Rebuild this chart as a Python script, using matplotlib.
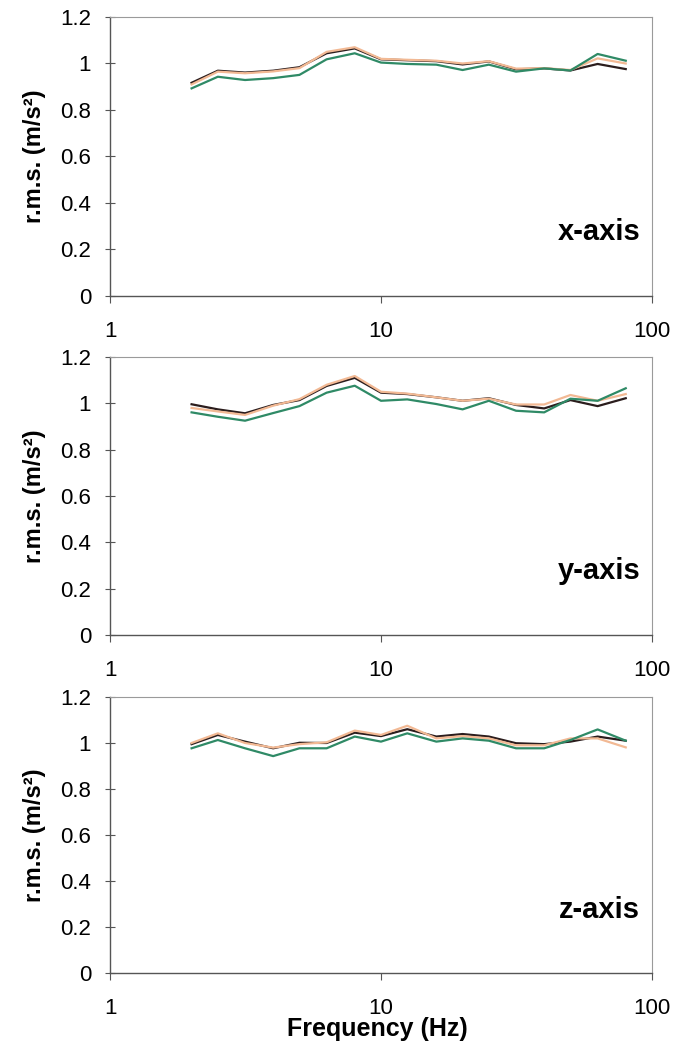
import matplotlib
matplotlib.use("Agg")
import matplotlib.pyplot as plt
from matplotlib.ticker import FixedLocator, NullLocator

plt.rcParams['font.family'] = ['Liberation Sans', 'DejaVu Sans']

freq = [2, 2.5, 3.15, 4, 5, 6.3, 8, 10, 12.5, 16, 20, 25, 31.5, 40, 50, 63, 80]

x_dark   = [0.917, 0.969, 0.961, 0.969, 0.984, 1.044, 1.065, 1.018, 1.014, 1.010, 0.996, 1.009, 0.975, 0.979, 0.970, 0.998, 0.976]
x_salmon = [0.910, 0.965, 0.958, 0.966, 0.980, 1.050, 1.070, 1.020, 1.016, 1.012, 1.000, 1.010, 0.978, 0.980, 0.972, 1.022, 1.000]
x_green  = [0.893, 0.943, 0.929, 0.937, 0.951, 1.018, 1.044, 1.004, 0.998, 0.995, 0.972, 0.995, 0.965, 0.979, 0.970, 1.041, 1.012]

y_dark   = [0.996, 0.974, 0.957, 0.993, 1.014, 1.075, 1.110, 1.046, 1.040, 1.026, 1.011, 1.022, 0.993, 0.978, 1.014, 0.988, 1.022]
y_salmon = [0.980, 0.965, 0.950, 0.990, 1.018, 1.080, 1.118, 1.050, 1.042, 1.026, 1.011, 1.020, 0.995, 0.995, 1.036, 1.011, 1.040]
y_green  = [0.961, 0.942, 0.925, 0.958, 0.988, 1.046, 1.076, 1.011, 1.017, 0.997, 0.974, 1.011, 0.968, 0.961, 1.020, 1.011, 1.065]

z_dark   = [0.995, 1.035, 1.006, 0.977, 1.001, 1.000, 1.045, 1.030, 1.060, 1.028, 1.039, 1.028, 0.999, 0.995, 1.006, 1.028, 1.010]
z_salmon = [1.000, 1.042, 1.000, 0.980, 0.995, 1.003, 1.054, 1.035, 1.075, 1.020, 1.030, 1.020, 0.990, 0.990, 1.020, 1.020, 0.981]
z_green  = [0.977, 1.013, 0.977, 0.943, 0.977, 0.977, 1.028, 1.006, 1.042, 1.006, 1.020, 1.010, 0.977, 0.977, 1.013, 1.059, 1.010]

panels = [
    ("x-axis", x_dark, x_salmon, x_green),
    ("y-axis", y_dark, y_salmon, y_green),
    ("z-axis", z_dark, z_salmon, z_green),
]

yticks = [0, 0.2, 0.4, 0.6, 0.8, 1.0, 1.2]
ytick_labels = ["0", "0.2", "0.4", "0.6", "0.8", "1", "1.2"]
xticks = [1, 10, 100]
xtick_labels = ["1", "10", "100"]

c_dark = "#2b1d1d"
c_salmon = "#f2b994"
c_green = "#2f8a66"

fig = plt.figure(figsize=(6.73, 10.46), dpi=100)
W, H = 673, 1046
boxes = [(17, 296), (357, 635), (697, 973)]
left_px, right_px = 110, 652

for (title, d, s, g), (top, bot) in zip(panels, boxes):
    ax = fig.add_axes([left_px / W, 1 - bot / H, (right_px - left_px) / W, (bot - top) / H])
    ax.set_xscale("log")
    ax.set_xlim(1, 100)
    ax.set_ylim(0, 1.2)
    ax.plot(freq, d, color=c_dark, lw=1.6, zorder=3)
    ax.plot(freq, s, color=c_salmon, lw=1.6, zorder=4)
    ax.plot(freq, g, color=c_green, lw=1.6, zorder=5)
    ax.xaxis.set_major_locator(FixedLocator(xticks))
    ax.xaxis.set_minor_locator(NullLocator())
    ax.set_xticklabels(xtick_labels)
    ax.set_yticks(yticks)
    ax.set_yticklabels(ytick_labels)
    ax.tick_params(axis="x", direction="out", length=5, width=0.8, colors="#555555",
                   labelcolor="black", labelsize=16, pad=13)
    ax.tick_params(axis="y", direction="inout", length=7, width=0.8, colors="#555555",
                   labelcolor="black", labelsize=16, pad=10)
    for sp in ["left", "bottom"]:
        ax.spines[sp].set_color("#555555")
        ax.spines[sp].set_linewidth(1.0)
    for sp in ["top", "right"]:
        ax.spines[sp].set_color("#9a9a9a")
        ax.spines[sp].set_linewidth(0.8)
    ax.set_ylabel("r.m.s. (m/s²)", fontsize=17, fontweight="bold", va="center")
    ax.yaxis.set_label_coords((35 - left_px) / (right_px - left_px), 0.5)
    ax.text(0.978, 0.23, title, transform=ax.transAxes, ha="right", va="center",
            fontsize=21, fontweight="bold")

fig.text(377 / W, 1 - 1029 / H, "Frequency (Hz)", ha="center", va="center",
         fontsize=18, fontweight="bold")

fig.savefig("out.png", dpi=100)
